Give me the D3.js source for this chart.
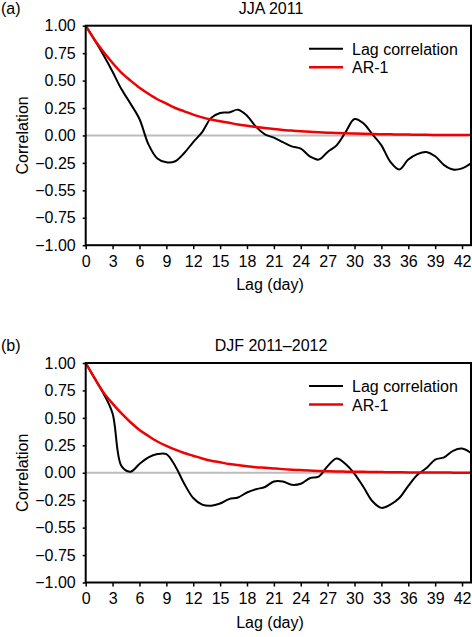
<html>
<head>
<style>
  body { margin: 0; background: #fff; }
  text { font-family: "Liberation Sans", Arial, sans-serif; font-size: 16px; fill: #000; }
</style>
</head>
<body>
<script src="https://cdn.jsdelivr.net/npm/d3@7"></script>
<script>
// lag in days, one value per day
var lags = d3.range(0, 44);

var jjaLagCorr = [1.00, 0.87, 0.73, 0.58, 0.42, 0.29, 0.15, -0.08, -0.21, -0.245,
  -0.235, -0.16, -0.06, 0.03, 0.16, 0.205, 0.21, 0.235, 0.18, 0.08,
  0.01, -0.02, -0.06, -0.10, -0.12, -0.19, -0.22, -0.15, -0.09, 0.03,
  0.15, 0.11, 0.01, -0.09, -0.24, -0.31, -0.22, -0.17, -0.15, -0.19,
  -0.27, -0.31, -0.30, -0.255];
var jjaAR1 = [1.00, 0.87, 0.76, 0.66, 0.57, 0.50, 0.435, 0.38, 0.33, 0.29,
  0.25, 0.22, 0.19, 0.165, 0.145, 0.13, 0.115, 0.10, 0.088, 0.077,
  0.067, 0.058, 0.05, 0.044, 0.038, 0.033, 0.029, 0.025, 0.022, 0.019,
  0.017, 0.015, 0.013, 0.011, 0.01, 0.009, 0.008, 0.007, 0.006, 0.005,
  0.005, 0.004, 0.004, 0.003];

var djfLagCorr = [1.00, 0.86, 0.72, 0.54, 0.06, 0.01, 0.08, 0.14, 0.17, 0.17,
  0.06, -0.10, -0.23, -0.29, -0.30, -0.28, -0.24, -0.225, -0.18, -0.15,
  -0.13, -0.08, -0.08, -0.11, -0.10, -0.05, -0.035, 0.06, 0.13, 0.08,
  -0.01, -0.13, -0.26, -0.32, -0.29, -0.23, -0.12, -0.02, 0.04, 0.12,
  0.14, 0.20, 0.22, 0.18];
var djfAR1 = [1.00, 0.86, 0.73, 0.63, 0.54, 0.46, 0.39, 0.335, 0.285, 0.245,
  0.21, 0.18, 0.155, 0.13, 0.11, 0.095, 0.08, 0.07, 0.06, 0.05,
  0.045, 0.039, 0.033, 0.028, 0.024, 0.02, 0.017, 0.014, 0.012, 0.01,
  0.009, 0.008, 0.007, 0.006, 0.005, 0.004, 0.003, 0.003, 0.002, 0.002,
  0.002, 0.001, 0.001, 0.001];

var xTicks = d3.range(0, 43, 3);
var yTicks = [1, 0.75, 0.5, 0.25, 0, -0.25, -0.5, -0.75, -1];
var yTickLabels = ["1.00", "0.75", "0.50", "0.25", "0.00", "\u22120.25", "\u22120.55", "\u22120.75", "\u22121.00"];
var seriesNames = ["Lag correlation", "AR-1"];
var seriesColors = ["#000", "#f00000"];

var svg = d3.select("body").append("svg")
  .attr("width", 472)
  .attr("height", 637);

var left = 85.7, right = 471, plotH = 219.5;

var x = d3.scaleLinear().domain([0, 43]).range([left, right]);

function drawPanel(top, tag, title, lagCorr, ar1) {
  var y = d3.scaleLinear().domain([-1, 1]).range([top + plotH, top]);
  var g = svg.append("g");

  g.append("text").attr("x", 1).attr("y", top - 12).text(tag);
  g.append("text").attr("x", 271).attr("y", top - 12)
    .attr("text-anchor", "middle").text(title);

  // zero line
  g.append("line")
    .attr("x1", left).attr("x2", right)
    .attr("y1", y(0)).attr("y2", y(0))
    .attr("stroke", "#bdbdbd").attr("stroke-width", 2);

  var line = d3.line()
    .x(function(d, i) { return x(lags[i]); })
    .y(function(d) { return y(d); })
    .curve(d3.curveCatmullRom.alpha(0.5));

  g.append("path").datum(lagCorr)
    .attr("d", line)
    .attr("fill", "none").attr("stroke", seriesColors[0]).attr("stroke-width", 2);
  g.append("path").datum(ar1)
    .attr("d", line)
    .attr("fill", "none").attr("stroke", seriesColors[1]).attr("stroke-width", 2.5);

  // frame
  g.append("rect")
    .attr("x", left).attr("y", top)
    .attr("width", right - left).attr("height", plotH)
    .attr("fill", "none").attr("stroke", "#000").attr("stroke-width", 2);

  var xAxis = g.append("g")
    .attr("transform", "translate(0," + (top + plotH) + ")")
    .call(d3.axisBottom(x).tickValues(xTicks).tickSize(4).tickPadding(6.5));
  var yAxis = g.append("g")
    .attr("transform", "translate(" + left + ",0)")
    .call(d3.axisLeft(y).tickValues(yTicks).tickSize(3).tickPadding(7)
      .tickFormat(function(d, i) { return yTickLabels[i]; }));
  [xAxis, yAxis].forEach(function(a) {
    a.select(".domain").remove();
    a.selectAll("line").attr("stroke", "#000").attr("stroke-width", 1.5);
    a.selectAll("text").attr("fill", "#000");
    a.attr("font-size", null).attr("font-family", null);
  });

  g.append("text").attr("x", 270).attr("y", top + plotH + 45)
    .attr("text-anchor", "middle").text("Lag (day)");
  g.append("text")
    .attr("transform", "translate(28," + (top + plotH / 2) + ") rotate(-90)")
    .attr("text-anchor", "middle").text("Correlation");

  // legend
  seriesNames.forEach(function(name, i) {
    var ly = top + 23 + i * 18.5;
    g.append("line")
      .attr("x1", 309).attr("x2", 343).attr("y1", ly).attr("y2", ly)
      .attr("stroke", seriesColors[i]).attr("stroke-width", i ? 2.5 : 2);
    g.append("text").attr("x", 352).attr("y", ly + 6).text(name);
  });
}

drawPanel(25.7, "(a)", "JJA 2011", jjaLagCorr, jjaAR1);
drawPanel(363, "(b)", "DJF 2011\u20132012", djfLagCorr, djfAR1);
</script>
</body>
</html>
